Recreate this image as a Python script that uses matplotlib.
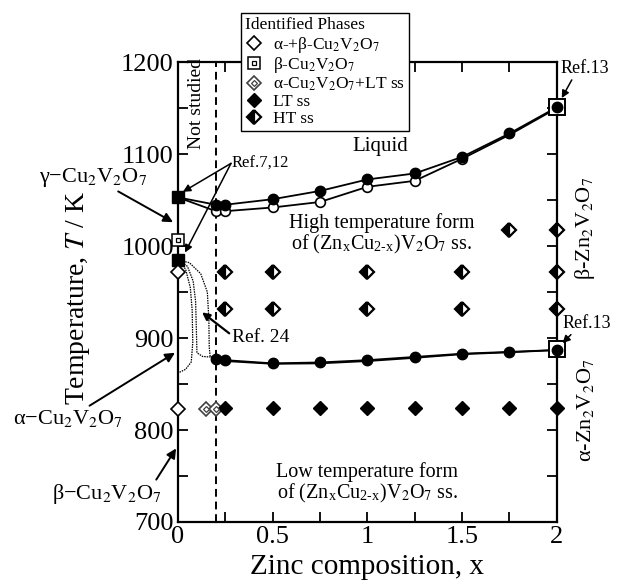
import matplotlib
matplotlib.use("Agg")
import matplotlib.pyplot as plt
from matplotlib.lines import Line2D
from matplotlib.ticker import MultipleLocator

plt.rcParams['font.family'] = ['Liberation Serif', 'DejaVu Serif']
plt.rcParams['mathtext.fontset'] = 'stix'

# liquidus (filled circles) and upper solidus (open circles)
liq_x = [0.0, 0.2, 0.25, 0.5, 0.75, 1.0, 1.25, 1.5, 1.75, 2.0]
liq_T = [1053, 1045, 1045, 1051, 1060, 1072.5, 1079, 1097, 1122.5, 1151]
sol_x = [0.0, 0.2, 0.25, 0.5, 0.75, 1.0, 1.25, 1.5, 1.75, 2.0]
sol_T = [1053, 1038, 1038, 1042, 1048, 1064.5, 1071, 1095, 1121, 1150]
open_x = [0.2, 0.25, 0.5, 0.75, 1.0, 1.25, 1.5]
open_T = [1038, 1038, 1042, 1048, 1064.5, 1071, 1095]

# HT -> LT transition
tr_x = [0.2, 0.25, 0.5, 0.75, 1.0, 1.25, 1.5, 1.75, 2.0]
tr_T1 = [877, 876, 872.5, 873.5, 876, 879.5, 883, 885, 887]
tr_T2 = [877, 875, 872, 872.5, 875, 878.5, 882.5, 884.5, 887]

# Cu2V2O7 end member
cu_sq_T = [1053, 985]
cu_beta_T = [1006.5]
ab_x = [0.0, 0.0]
ab_T = [972, 823]

# Zn2V2O7 end member (Ref.13)
zn_sq_T = [1151.5, 888.5]

# alpha-Cu2V2O7 + LT ss
alt_x = [0.15, 0.2]
alt_T = [823, 823]

# LT ss
lt_x = [0.25, 0.5, 0.75, 1.0, 1.25, 1.5, 1.75, 2.0]
lt_T = [823.5] * 8

# HT ss
ht_x = [1.75, 2.0, 0.25, 0.5, 1.0, 1.5, 2.0, 0.25, 0.5, 1.0, 1.5, 2.0]
ht_T = [1017, 1017, 972, 972, 972, 972, 972, 932, 932, 932, 932, 932]

# Ref.24 boundaries
r24_a_x = [0.0, 0.06, 0.12, 0.155, 0.163, 0.165, 0.17, 0.2]
r24_a_T = [985, 982, 970, 950, 920, 890, 880, 879]
r24_b_x = [0.0, 0.05, 0.08, 0.093, 0.097, 0.1, 0.13, 0.2]
r24_b_T = [985, 978, 962, 940, 910, 884, 880, 879]
r24_c_x = [0.0, 0.04, 0.065, 0.075, 0.078, 0.07, 0.04, 0.0]
r24_c_T = [985, 975, 955, 930, 895, 874, 866, 862]

fig = plt.figure(figsize=(6.18, 5.85), dpi=100)
ax = fig.add_axes([0.288, 0.1077, 0.613, 0.786])

k = 'black'
ax.axvline(0.2, color=k, lw=1.4, ls=(0, (4, 2.5)), zorder=1)

ax.plot(liq_x, liq_T, color=k, lw=1.3, zorder=2)
ax.plot(sol_x, sol_T, color=k, lw=1.3, zorder=2)
ax.plot(tr_x, tr_T1, color=k, lw=1.3, zorder=2)
ax.plot(tr_x, tr_T2, color=k, lw=1.3, zorder=2)
for cx, cT in [(r24_a_x, r24_a_T), (r24_b_x, r24_b_T), (r24_c_x, r24_c_T)]:
    ax.plot(cx, cT, color=k, lw=0.9, ls=(0, (1.2, 0.8)), zorder=2)

ax.plot(open_x, open_T, 'o', ms=7, mfc='white', mec=k, mew=1.2, zorder=3)
ax.plot(liq_x[1:], liq_T[1:], 'o', ms=7.5, color=k, zorder=4, clip_on=False)
ax.plot(tr_x, tr_T1, 'o', ms=7.5, color=k, zorder=4, clip_on=False)

ax.plot([0, 0], cu_sq_T, 's', ms=8, color=k, zorder=5, clip_on=False)
ax.plot([0], cu_beta_T, 's', ms=8, mfc='white', mec=k, mew=1.1, zorder=5, clip_on=False)
ax.plot([0], cu_beta_T, 's', ms=3.5, mfc='white', mec=k, mew=0.9, zorder=6, clip_on=False)
ax.plot([2, 2], zn_sq_T, 's', ms=11, mfc='white', mec=k, mew=1.4, zorder=3, clip_on=False)

ax.plot(ab_x, ab_T, 'D', ms=7, mfc='white', mec=k, mew=1.2, zorder=5, clip_on=False)
ax.plot(alt_x, alt_T, 'D', ms=7, mfc='white', mec='0.25', mew=1.2, zorder=5)
ax.plot(alt_x, alt_T, 'D', ms=3, mfc='white', mec='0.25', mew=0.9, zorder=6)
ax.plot(lt_x, lt_T, 'D', ms=7, color=k, zorder=5, clip_on=False)
ax.plot(ht_x, ht_T, 'D', ms=7, fillstyle='left', mfc=k, mfcalt='white',
        mec=k, mew=1.6, zorder=5, clip_on=False)

ax.set_xlim(0, 2)
ax.set_ylim(700, 1200)
ax.xaxis.set_minor_locator(MultipleLocator(0.25))
ax.yaxis.set_major_locator(MultipleLocator(100))
ax.yaxis.set_minor_locator(MultipleLocator(50))
ax.set_xticks([0, 0.5, 1, 1.5, 2], ['0', '0.5', '1', '1.5', '2'])
ax.tick_params(which='both', direction='in', top=True, right=True,
               length=7, width=1.3, labelsize=19, pad=3)
for s in ax.spines.values():
    s.set_linewidth(1.6)

ax.set_xlabel('Zinc composition, x', fontsize=21, labelpad=4)
fig.text(78 / 618, 1 - 298 / 585, 'Temperature, $\\mathit{T}$ / K', fontsize=20,
         rotation=90, ha='center', va='center')

# region names
ax.text(1.07, 1108, 'Liquid', fontsize=15, ha='center', va='center')
ax.text(1.075, 1013, 'High temperature form\nof (Zn$_\\mathregular{x}$Cu$_\\mathregular{2\\text{-}x}$)V$_2$O$_7$ ss.',
        fontsize=14.5, ha='center', va='center', linespacing=1.0)
ax.text(1.0, 742, 'Low temperature form\nof (Zn$_\\mathregular{x}$Cu$_\\mathregular{2\\text{-}x}$)V$_2$O$_7$ ss.',
        fontsize=14.5, ha='center', va='center', linespacing=1.0)
ax.text(0.1, 1155, 'Not studied', fontsize=14, rotation=90, ha='center', va='center')

# end member names
ax.text(2.15, 1019, 'β-Zn$_2$V$_2$O$_7$', fontsize=16, rotation=90,
        ha='center', va='center', clip_on=False)
ax.text(2.15, 822, 'α-Zn$_2$V$_2$O$_7$', fontsize=16, rotation=90,
        ha='center', va='center', clip_on=False)

arw = dict(arrowstyle='-|>', color=k, lw=1.4, mutation_scale=14, shrinkA=0, shrinkB=0)
ax.annotate('γ−Cu$_2$V$_2$O$_7$', xy=(-0.026, 1026), xytext=(-0.45, 1075),
            fontsize=16, ha='center', va='center', arrowprops=arw, annotation_clip=False)
ax.annotate('α−Cu$_2$V$_2$O$_7$', xy=(-0.016, 884), xytext=(-0.58, 812),
            fontsize=16, ha='center', va='center', arrowprops=arw, annotation_clip=False)
ax.annotate('β−Cu$_2$V$_2$O$_7$', xy=(-0.01, 780), xytext=(-0.375, 730),
            fontsize=16, ha='center', va='center',
            arrowprops=dict(arw, relpos=(0.92, 0.9)), annotation_clip=False)

ref = dict(arrowstyle='-|>', color=k, lw=1.1, mutation_scale=11, shrinkA=0, shrinkB=0)
ax.text(0.285, 1090, 'Ref.7,12', fontsize=12, ha='left', va='center')
ax.annotate('', xy=(0.026, 1059), xytext=(0.28, 1090), arrowprops=ref)
ax.annotate('', xy=(0.037, 993), xytext=(0.28, 1090), arrowprops=ref)
ax.annotate('Ref. 24', xy=(0.127, 928), xytext=(0.285, 901), fontsize=14,
            ha='left', va='center',
            arrowprops=dict(ref, relpos=(0, 0.6), lw=1.6))
ax.annotate('Ref.13', xy=(2.026, 1161), xytext=(2.02, 1193), fontsize=13,
            ha='left', va='center', arrowprops=dict(ref, relpos=(0.3, 0.2)),
            annotation_clip=False)
ax.annotate('Ref.13', xy=(2.03, 894.5), xytext=(2.03, 916), fontsize=13,
            ha='left', va='center', arrowprops=dict(ref, relpos=(0.3, 0.2)),
            annotation_clip=False)

# legend
h_ab = Line2D([], [], ls='', marker='D', ms=7, mfc='white', mec=k, mew=1.2)
h_b = (Line2D([], [], ls='', marker='s', ms=8, mfc='white', mec=k, mew=1.1),
       Line2D([], [], ls='', marker='s', ms=3.5, mfc='white', mec=k, mew=0.9))
h_alt = (Line2D([], [], ls='', marker='D', ms=7, mfc='white', mec='0.25', mew=1.2),
         Line2D([], [], ls='', marker='D', ms=3, mfc='white', mec='0.25', mew=0.9))
h_lt = Line2D([], [], ls='', marker='D', ms=7, color=k)
h_ht = Line2D([], [], ls='', marker='D', ms=7, fillstyle='left', mfc=k,
              mfcalt='white', mec=k, mew=1.6)
leg = fig.legend([h_ab, h_b, h_alt, h_lt, h_ht],
                 ['α-+β-Cu$_2$V$_2$O$_7$', 'β-Cu$_2$V$_2$O$_7$',
                  'α-Cu$_2$V$_2$O$_7$+LT ss', 'LT ss', 'HT ss'],
                 title='Identified Phases', loc='upper left',
                 bbox_to_anchor=(0.39, 0.978), fontsize=12.5, title_fontsize=12.5,
                 frameon=True, fancybox=False, edgecolor=k, framealpha=1,
                 handlelength=1.0, handletextpad=0.6, labelspacing=0.04,
                 borderpad=0.25, borderaxespad=0, alignment='left')
leg.get_frame().set_linewidth(1.0)
leg._legend_box.sep = 1

fig.savefig('out.png', dpi=100)
